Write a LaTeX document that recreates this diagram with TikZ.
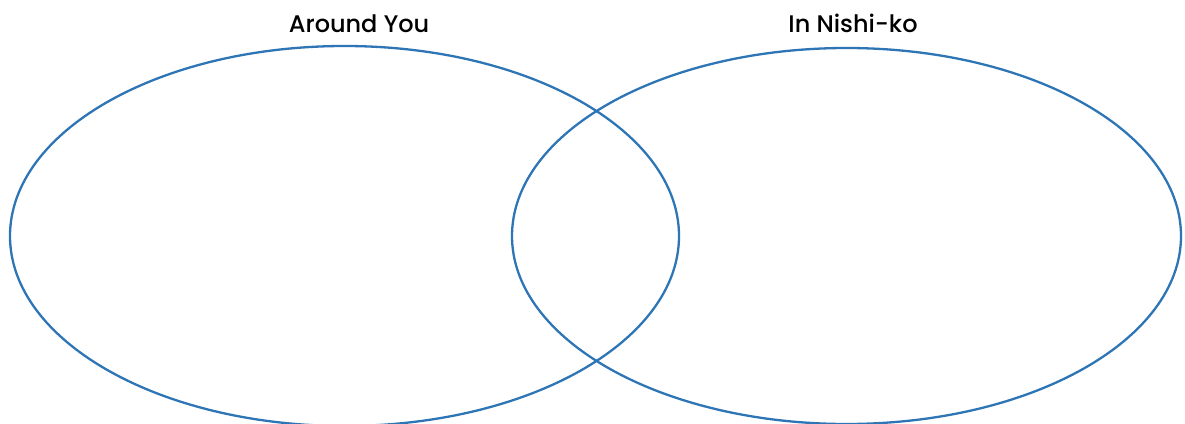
\documentclass[tikz,border=0pt]{standalone}
\usepackage{fontspec}
\usetikzlibrary{shapes.geometric}
\setmainfont{Poppins}[UprightFont=*-Medium]
\begin{document}
\begin{tikzpicture}[x=1pt,y=-1pt,
  venn/.style={draw=vennblue, line width=2.3pt, ellipse, inner sep=0pt},
  title/.style={font=\fontsize{24}{28}\selectfont, text=black, inner sep=0pt, anchor=base}]
\definecolor{vennblue}{RGB}{46,117,182}
\useasboundingbox (0,0) rectangle (1185,423);
\clip (0,0) rectangle (1185,423);
\node[venn, minimum width=669pt, minimum height=380pt] (left) at (344.5,236) {};
\node[venn, minimum width=669pt, minimum height=376pt] (right) at (846.5,236) {};
\node[title] (a) at (359,32) {Around You};
\node[title] (b) at (853,32) {In Nishi-ko};
\end{tikzpicture}
\end{document}
